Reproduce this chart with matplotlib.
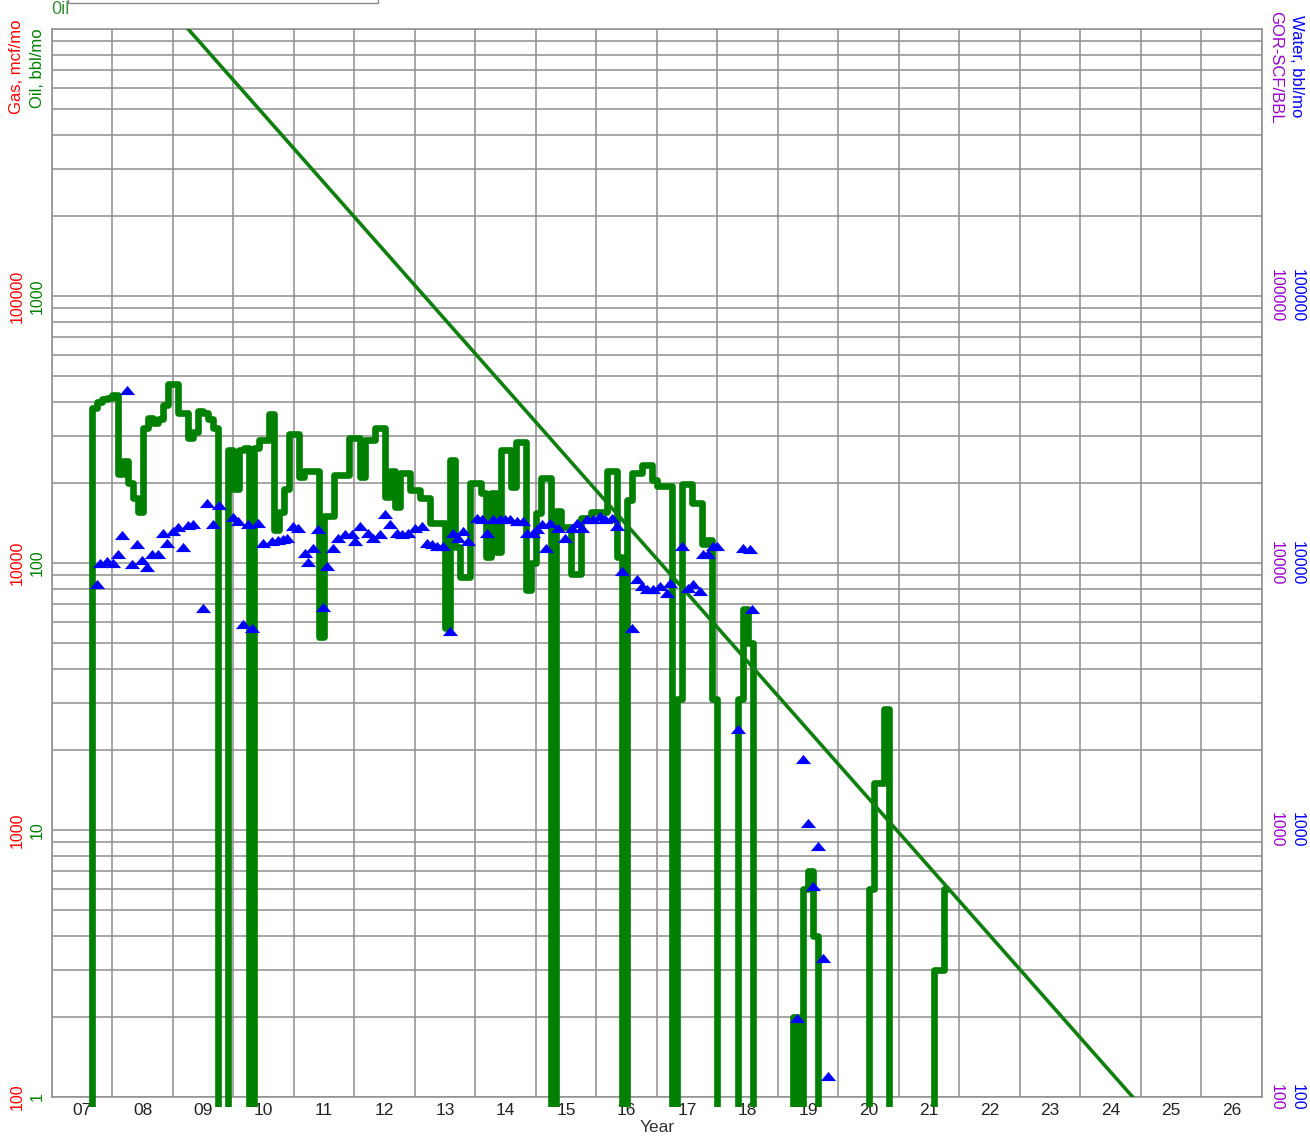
import numpy as np
import matplotlib
matplotlib.use("Agg")
import matplotlib.pyplot as plt
from matplotlib.path import Path
from matplotlib.patches import Rectangle
from matplotlib.transforms import Bbox, TransformedBbox
from matplotlib.ticker import LogLocator, FixedLocator, NullFormatter

# ---- monthly oil production, bbl/mo (0 = no production) ----
oil_first_month = (2007, 8)
oil_2007 = [0, 380, 400, 410, 415]
oil_2008 = [425, 215, 240, 200, 175, 155, 320, 350, 335, 345, 390, 470]
oil_2009 = [470, 365, 365, 295, 310, 370, 365, 345, 320, 0, 0, 265]
oil_2010 = [190, 265, 270, 0, 270, 290, 290, 360, 133, 155, 190, 305]
oil_2011 = [305, 210, 222, 222, 222, 53, 150, 150, 213, 213, 213, 295]
oil_2012 = [295, 210, 290, 290, 320, 320, 177, 222, 162, 217, 217, 188]
oil_2013 = [188, 175, 175, 141, 141, 141, 57, 243, 115, 89, 89, 200]
oil_2014 = [200, 183, 105, 183, 110, 265, 265, 192, 285, 285, 79, 100]
oil_2015 = [154, 208, 208, 0, 157, 136, 136, 91, 91, 148, 148, 155]
oil_2016 = [155, 155, 222, 222, 105, 0, 172, 217, 217, 232, 232, 205]
oil_2017 = [195, 195, 195, 0, 31, 197, 197, 168, 168, 118, 122, 31]
oil_2018 = [0, 0, 0, 0, 31, 67, 50, 0, 0, 0, 0, 0]
oil_2019 = [0, 0, 0, 2, 0, 6, 7, 4, 0, 0, 0, 0]
oil_2020 = [0, 0, 0, 0, 0, 0, 6, 15, 15, 28.5, 0, 0]
oil_2021 = [0, 0, 0, 0, 0, 0, 0, 3, 3, 6]

# ---- water test points, bbl/mo ----
water_year = [
    2007.74, 2007.79, 2007.91,
    2008.01, 2008.09, 2008.16, 2008.24, 2008.32, 2008.40, 2008.49, 2008.57, 2008.65, 2008.75, 2008.83, 2008.90,
    2009.00, 2009.08, 2009.17, 2009.25, 2009.33, 2009.50, 2009.56, 2009.66, 2009.76, 2009.99,
    2010.07, 2010.16, 2010.24, 2010.31, 2010.40, 2010.49, 2010.64, 2010.74, 2010.82, 2010.88, 2010.98,
    2011.07, 2011.18, 2011.23, 2011.31, 2011.40, 2011.48, 2011.55, 2011.64, 2011.73, 2011.84, 2011.96,
    2012.01, 2012.09, 2012.22, 2012.31, 2012.42, 2012.50, 2012.59, 2012.70, 2012.79, 2012.88,
    2013.00, 2013.12, 2013.20, 2013.28, 2013.36, 2013.46, 2013.58, 2013.63, 2013.71, 2013.79, 2013.88,
    2014.02, 2014.11, 2014.19, 2014.29, 2014.40, 2014.49, 2014.57, 2014.69, 2014.79, 2014.85, 2014.95,
    2015.02, 2015.10, 2015.17, 2015.23, 2015.36, 2015.48, 2015.60, 2015.68, 2015.76, 2015.84, 2015.94,
    2016.06, 2016.14, 2016.26, 2016.34, 2016.42, 2016.59, 2016.67, 2016.75, 2016.83, 2016.93,
    2017.05, 2017.17, 2017.21, 2017.41, 2017.51, 2017.60, 2017.71, 2017.76, 2017.84, 2017.93, 2017.99,
    2018.34, 2018.42, 2018.54, 2018.57,
    2019.31, 2019.41, 2019.50, 2019.58, 2019.66, 2019.74, 2019.83,
]
water_bbl = [
    8340, 10000, 10170,
    10000, 10810, 12730, 44500, 9910, 11780, 10260, 9660, 10810, 10810, 12950, 11880,
    13200, 13600, 11480, 13900, 14000, 6780, 16800, 14000, 16500, 14900,
    14400, 5910, 14000, 5710, 14100, 11880, 12090, 12190, 12300, 12410, 13800,
    13500, 10900, 10090, 11380, 13400, 6840, 9740, 11380, 12410, 12840, 12840,
    12090, 13800, 12950, 12410, 12840, 15300, 14000, 12950, 12840, 12950,
    13500, 13800, 11880, 11780, 11580, 11580, 5560, 12950, 12410, 13200, 12090,
    14700, 14600, 12950, 14600, 14600, 14600, 14600, 14400, 14400, 12950, 12950,
    13400, 14000, 11380, 14100, 13500, 12410, 13500, 14100, 13500, 14600, 14600,
    15000, 14600, 14700, 13800, 9330, 5710, 8710, 8200, 7990, 7990,
    8200, 7720, 8410, 11580, 8060, 8340, 7850, 10810, 10810, 11580, 11580,
    2390, 11380, 11280, 6730,
    198, 1845, 1062, 617, 871, 332, 120,
]

# ---- oil decline projection (end points) ----
decline_year = [2009.25, 2024.95]
decline_oil = [10000, 0.95]

# ---- axes ----
year_labels = ["07", "08", "09", "10", "11", "12", "13", "14", "15", "16",
               "17", "18", "19", "20", "21", "22", "23", "24", "25", "26"]
oil_ticks = [1, 10, 100, 1000]
gas_ticks = [100, 1000, 10000, 100000]
water_ticks = [100, 1000, 10000, 100000]
gor_ticks = [100, 1000, 10000, 100000]
GAS_PER_OIL_AXIS = 100  # gas / water axes run two decades above the oil axis

GREEN = "#008000"
RED = "#ff0000"
BLUE = "#0000ff"
PURPLE = "#9a00d0"
GRID = "#8e8e8e"
FONT = "Liberation Sans"

W, H = 1310, 1142
fig = plt.figure(figsize=(W / 100, H / 100), dpi=100)
L, R, T, B = 52, 1262, 29, 1097
ax = fig.add_axes([L / W, 1 - B / H, (R - L) / W, (B - T) / H])

oil = np.array(oil_2007 + oil_2008 + oil_2009 + oil_2010 + oil_2011 + oil_2012 + oil_2013
               + oil_2014 + oil_2015 + oil_2016 + oil_2017 + oil_2018 + oil_2019 + oil_2020
               + oil_2021, dtype=float)
start = oil_first_month[0] + (oil_first_month[1] - 1) / 12
edges = start + np.arange(len(oil) + 1) / 12
oil_plot = np.where(oil > 0, oil, 1e-3)  # shut-in months drop off the bottom
oil_line, = ax.step(edges, np.append(oil_plot, oil_plot[-1]), where="post", color=GREEN,
                    lw=4.8, solid_joinstyle="round", solid_capstyle="butt", zorder=3)
# let the shut-in drops poke just past the bottom frame
oil_line.set_clip_box(TransformedBbox(Bbox([[0, -0.009], [1, 1]]), ax.transAxes))

ax.plot(decline_year, decline_oil, color="#0f800f", lw=2.6, zorder=4)

ax.set_xlim(2007, 2027)
ax.set_yscale("log")
ax.set_ylim(1, 10000)
ax.xaxis.set_major_locator(FixedLocator(np.arange(2007, 2028)))
ax.xaxis.set_major_formatter(NullFormatter())
ax.xaxis.set_minor_locator(FixedLocator(np.arange(2007.5, 2027, 1)))
ax.set_xticklabels(year_labels, minor=True)
ax.yaxis.set_major_locator(LogLocator(base=10))
ax.yaxis.set_minor_locator(LogLocator(base=10, subs=np.arange(2, 10)))
ax.yaxis.set_major_formatter(NullFormatter())
ax.yaxis.set_minor_formatter(NullFormatter())
ax.tick_params(axis="both", which="both", length=0)
ax.tick_params(axis="x", which="minor", pad=4, labelsize=12.5, labelcolor="#222222")
for lab in ax.get_xticklabels(minor=True):
    lab.set_fontfamily(FONT)
ax.grid(True, axis="x", which="major", color=GRID, lw=1.1)
ax.grid(True, axis="y", which="both", color=GRID, lw=1.1)
ax.set_axisbelow(True)
for s in ax.spines.values():
    s.set_color(GRID)
    s.set_linewidth(1.1)

# water points on the right-hand scale
ax2 = ax.twinx()
ax2.set_yscale("log")
ax2.set_ylim(1 * GAS_PER_OIL_AXIS, 10000 * GAS_PER_OIL_AXIS)
ax2.tick_params(axis="both", which="both", length=0, labelright=False, labelleft=False)
ax2.yaxis.set_major_formatter(NullFormatter())
ax2.yaxis.set_minor_formatter(NullFormatter())
for s in ax2.spines.values():
    s.set_visible(False)
tri = Path([(-1, -0.6), (1, -0.6), (0, 0.6), (-1, -0.6)],
           [Path.MOVETO, Path.LINETO, Path.LINETO, Path.CLOSEPOLY])
ax2.plot(water_year, water_bbl, linestyle="none", marker=tri, markersize=11,
         color=BLUE, markeredgewidth=0, zorder=5)

# tick value labels
ty = ax.get_yaxis_transform()
for v in oil_ticks:
    ax.text(-0.0124, v, str(v), transform=ty, rotation=90, ha="center", va="center",
            color=GREEN, fontsize=11.5, family=FONT)
for g in gas_ticks:
    ax.text(-0.0289, g / GAS_PER_OIL_AXIS, str(g), transform=ty, rotation=90, ha="center",
            va="center", color=RED, fontsize=11.5, family=FONT)
ty2 = ax2.get_yaxis_transform()
for g in gor_ticks:
    ax2.text(1.0116, g, str(g), transform=ty2, rotation=270, ha="center", va="center",
             color=PURPLE, fontsize=11.5, family=FONT)
for w in water_ticks:
    ax2.text(1.0289, w, str(w), transform=ty2, rotation=270, ha="center", va="center",
             color=BLUE, fontsize=11.5, family=FONT)

# axis titles
fig.text(17 / W, 1 - 67 / H, "Gas, mcf/mo", rotation=90, ha="center", va="center",
         color=RED, fontsize=12, family=FONT)
fig.text(37 / W, 1 - 68 / H, "Oil, bbl/mo", rotation=90, ha="center", va="center",
         color=GREEN, fontsize=12, family=FONT)
fig.text(1276 / W, 1 - 67 / H, "GOR-SCF/BBL", rotation=270, ha="center", va="center",
         color=PURPLE, fontsize=12, family=FONT)
fig.text(1297 / W, 1 - 66 / H, "Water, bbl/mo", rotation=270, ha="center", va="center",
         color=BLUE, fontsize=12, family=FONT)
fig.text(657 / W, 1 - 1127 / H, "Year", ha="center", va="center", color="#333333",
         fontsize=12.5, family=FONT)

# legend box along the top edge
fig.text(60 / W, 1 - 10 / H, "0il", ha="center", va="center", color="#3a8f3a",
         fontsize=13, family=FONT)
fig.patches.append(Rectangle((68 / W, 1 - 3 / H), 310 / W, 0.05, transform=fig.transFigure,
                             fill=False, edgecolor="#888888", lw=1.0, clip_on=False))

fig.savefig("out.png", dpi=100)
